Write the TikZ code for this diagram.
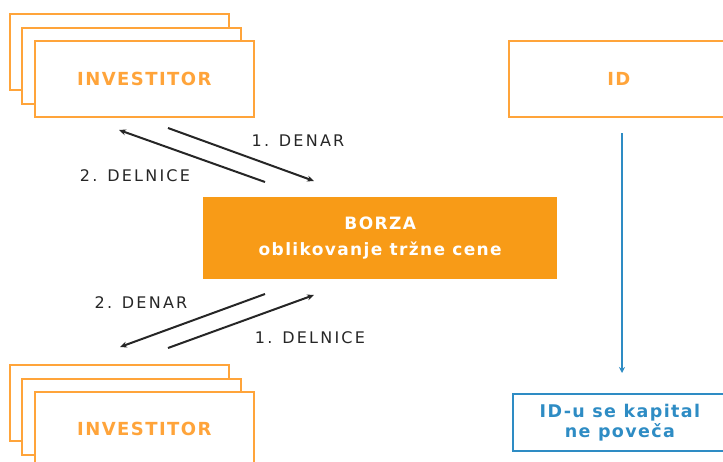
\documentclass[tikz,border=0pt]{standalone}
\usepackage{fontspec}
\setmainfont{DejaVu Sans}
\newfontfamily\labfont[LetterSpace=14]{DejaVu Sans}
\newfontfamily\boldfont[LetterSpace=8]{DejaVu Sans Bold}
\usetikzlibrary{arrows.meta}
\definecolor{orb}{HTML}{FFA43A}
\definecolor{orf}{HTML}{F89B17}
\definecolor{blu}{HTML}{2E8CC4}
\tikzset{
  invbox/.style={draw=orb, line width=1.8pt, fill=white, minimum width=219pt, minimum height=76pt, anchor=north west, inner sep=0pt},
  invtext/.style={text=orb, font=\boldfont\fontsize{18}{20}\selectfont},
  arr/.style={line width=2pt, draw=black!85, -{Stealth[length=7pt,width=6pt]}},
  lab/.style={font=\labfont\fontsize{16}{18}\selectfont, text=black!85, inner sep=0pt}
}
\begin{document}
\begin{tikzpicture}[x=1pt,y=-1pt]
\useasboundingbox (0,0) rectangle (723,461);
\clip (0,0) rectangle (723,461);
% top investors
\node[invbox] (inva) at (9,13) {};
\node[invbox] (invb) at (21,27) {};
\node[invbox, invtext] (invc) at (34,40) {INVESTITOR};
% ID
\node[draw=orb, line width=1.8pt, minimum width=220pt, minimum height=76pt, anchor=north west, inner sep=0pt, invtext] (id) at (508,40) {ID};
% borza
\node[fill=orf, minimum width=354pt, minimum height=82pt, anchor=north west, inner sep=0pt, text=white, font=\boldfont\fontsize{17}{26}\selectfont, align=center] (borza) at (203,197) {BORZA\\oblikovanje tržne cene};
% bottom investors
\node[invbox] (invd) at (9,364) {};
\node[invbox] (inve) at (21,378) {};
\node[invbox, invtext, minimum height=74pt] (invf) at (34,391) {INVESTITOR};
% result
\node[draw=blu, line width=1.8pt, minimum width=214pt, minimum height=57pt, anchor=north west, inner sep=0pt, text=blu, font=\boldfont\fontsize{17.5}{20}\selectfont, align=center] (res) at (512,393) {ID-u se kapital\\ne poveča};
\coordinate (bluestart) at (622,133);
\coordinate (blueend) at (622,373);
\draw[line width=2pt, draw=blu, -{Stealth[length=6pt,width=6pt]}] (bluestart) -- (blueend);
% arrows top
\coordinate (t1s) at (265,182);
\coordinate (t1e) at (119,130);
\coordinate (t2s) at (168,128);
\coordinate (t2e) at (314,181);
\draw[arr] (t1s) -- (t1e);
\draw[arr] (t2s) -- (t2e);
\node[lab] (l1) at (298,141) {1. DENAR};
\node[lab] (l2) at (135,176) {2. DELNICE};
% arrows bottom
\coordinate (b1s) at (265,294);
\coordinate (b1e) at (120,347);
\coordinate (b2s) at (168,348);
\coordinate (b2e) at (314,295);
\draw[arr] (b1s) -- (b1e);
\draw[arr] (b2s) -- (b2e);
\node[lab] (l3) at (141,303) {2. DENAR};
\node[lab] (l4) at (310,338) {1. DELNICE};
\end{tikzpicture}
\end{document}
